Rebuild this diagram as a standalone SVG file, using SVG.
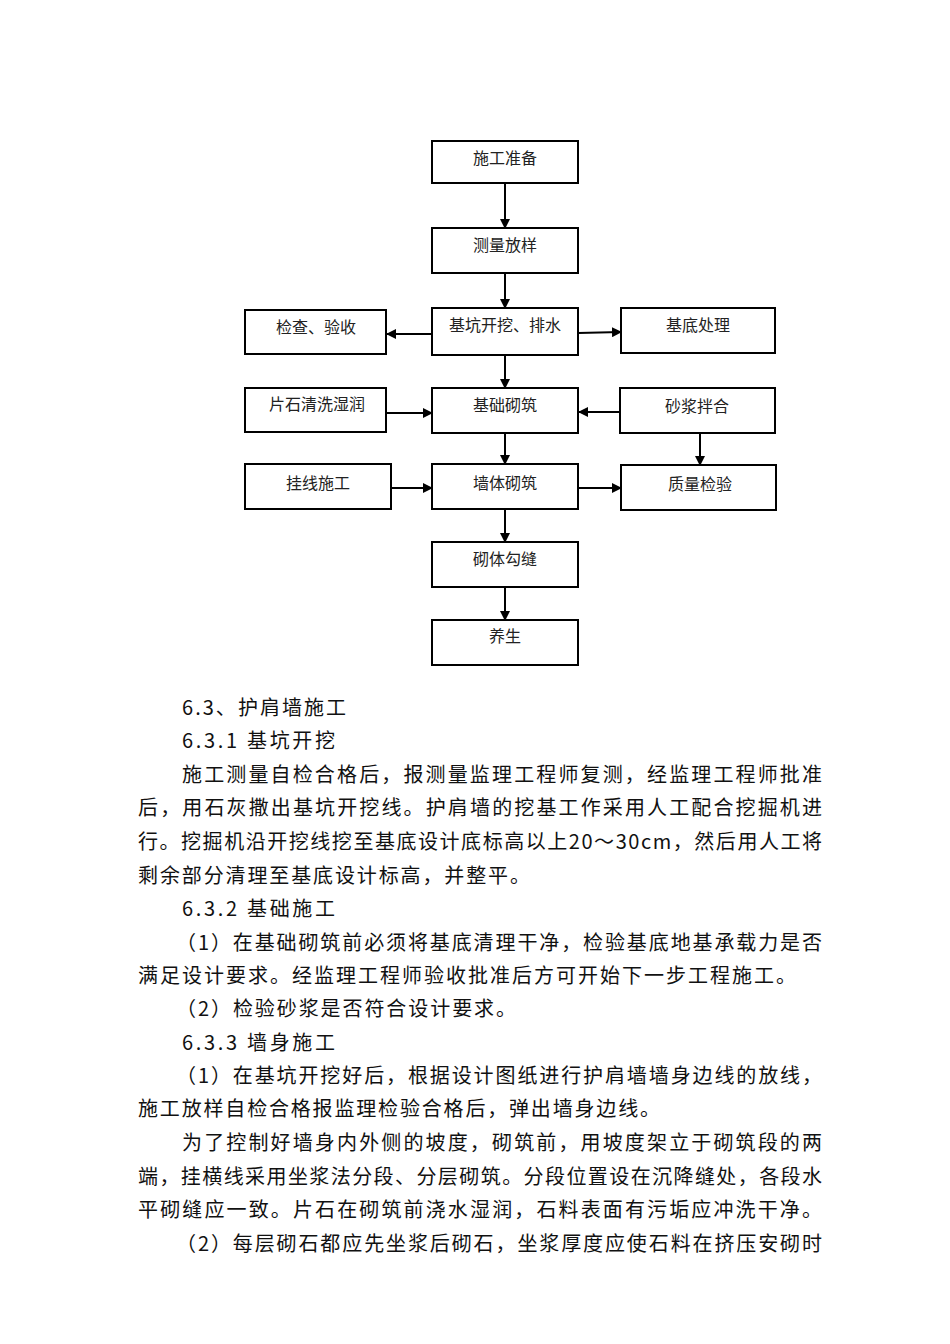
<svg xmlns="http://www.w3.org/2000/svg" width="950" height="1344" viewBox="0 0 950 1344">
<style>
.box{fill:#fff;stroke:#000;stroke-width:2}
.bt{font-family:"Noto Sans CJK SC","Noto Sans",sans-serif;font-size:16px;fill:#222;text-anchor:middle}
.con{stroke:#000;stroke-width:2;fill:none;marker-end:url(#ah)}
.p{font-family:"Noto Sans CJK SC","Noto Sans",sans-serif;font-size:20px;fill:#111}
</style>
<defs>
<marker id="ah" markerWidth="10" markerHeight="10" refX="9" refY="5" orient="auto" markerUnits="userSpaceOnUse">
<path d="M0,0 L10,5 L0,10 Z" fill="#000"/>
</marker>
</defs>
<rect width="950" height="1344" fill="#fff"/>
<g id="connectors">
<line class="con" x1="505" y1="183" x2="505" y2="228"/>
<line class="con" x1="505" y1="273" x2="505" y2="308"/>
<line class="con" x1="432" y1="334" x2="387" y2="334"/>
<line class="con" x1="578" y1="333" x2="621" y2="332"/>
<line class="con" x1="505" y1="355" x2="505" y2="388"/>
<line class="con" x1="386" y1="413" x2="432" y2="413"/>
<line class="con" x1="620" y1="412" x2="579" y2="412"/>
<line class="con" x1="505" y1="433" x2="505" y2="464"/>
<line class="con" x1="700" y1="433" x2="700" y2="465"/>
<line class="con" x1="391" y1="488" x2="432" y2="488"/>
<line class="con" x1="578" y1="488" x2="621" y2="488"/>
<line class="con" x1="505" y1="509" x2="505" y2="542"/>
<line class="con" x1="505" y1="587" x2="505" y2="620"/>
</g>
<g id="n1"><rect class="box" x="432" y="141" width="146" height="42"/><text class="bt" x="505" y="164">施工准备</text></g>
<g id="n2"><rect class="box" x="432" y="228" width="146" height="45"/><text class="bt" x="505" y="251">测量放样</text></g>
<g id="n3"><rect class="box" x="432" y="308" width="146" height="47"/><text class="bt" x="505" y="331">基坑开挖、排水</text></g>
<g id="n4"><rect class="box" x="245" y="310" width="141" height="44"/><text class="bt" x="316" y="333">检查、验收</text></g>
<g id="n5"><rect class="box" x="621" y="308" width="154" height="45"/><text class="bt" x="698" y="331">基底处理</text></g>
<g id="n6"><rect class="box" x="245" y="388" width="141" height="44"/><text class="bt" x="317" y="410">片石清洗湿润</text></g>
<g id="n7"><rect class="box" x="432" y="388" width="146" height="45"/><text class="bt" x="505" y="411">基础砌筑</text></g>
<g id="n8"><rect class="box" x="620" y="388" width="155" height="45"/><text class="bt" x="697" y="412">砂浆拌合</text></g>
<g id="n9"><rect class="box" x="245" y="464" width="146" height="45"/><text class="bt" x="318" y="489">挂线施工</text></g>
<g id="n10"><rect class="box" x="432" y="464" width="146" height="45"/><text class="bt" x="505" y="489">墙体砌筑</text></g>
<g id="n11"><rect class="box" x="621" y="465" width="155" height="45"/><text class="bt" x="700" y="490">质量检验</text></g>
<g id="n12"><rect class="box" x="432" y="542" width="146" height="45"/><text class="bt" x="505" y="565">砌体勾缝</text></g>
<g id="n13"><rect class="box" x="432" y="620" width="146" height="45"/><text class="bt" x="505" y="642">养生</text></g>
<g id="body">
<text class="p" x="182" y="715" textLength="164" lengthAdjust="spacing">6.3、护肩墙施工</text>
<text class="p" x="182" y="748" textLength="153" lengthAdjust="spacing">6.3.1 基坑开挖</text>
<text class="p" x="182" y="782" textLength="640" lengthAdjust="spacing">施工测量自检合格后，报测量监理工程师复测，经监理工程师批准</text>
<text class="p" x="138" y="815" textLength="684" lengthAdjust="spacing">后，用石灰撒出基坑开挖线。护肩墙的挖基工作采用人工配合挖掘机进</text>
<text class="p" x="138" y="849" textLength="684" lengthAdjust="spacing">行。挖掘机沿开挖线挖至基底设计底标高以上20～30cm，然后用人工将</text>
<text class="p" x="138" y="883" textLength="392" lengthAdjust="spacing">剩余部分清理至基底设计标高，并整平。</text>
<text class="p" x="182" y="916" textLength="153" lengthAdjust="spacing">6.3.2 基础施工</text>
<text class="p" x="176" y="950" textLength="646" lengthAdjust="spacing">（1）在基础砌筑前必须将基底清理干净，检验基底地基承载力是否</text>
<text class="p" x="138" y="983" textLength="658" lengthAdjust="spacing">满足设计要求。经监理工程师验收批准后方可开始下一步工程施工。</text>
<text class="p" x="176" y="1016" textLength="340" lengthAdjust="spacing">（2）检验砂浆是否符合设计要求。</text>
<text class="p" x="182" y="1050" textLength="153" lengthAdjust="spacing">6.3.3 墙身施工</text>
<text class="p" x="176" y="1083" textLength="646" lengthAdjust="spacing">（1）在基坑开挖好后，根据设计图纸进行护肩墙墙身边线的放线，</text>
<text class="p" x="138" y="1116" textLength="522" lengthAdjust="spacing">施工放样自检合格报监理检验合格后，弹出墙身边线。</text>
<text class="p" x="182" y="1150" textLength="640" lengthAdjust="spacing">为了控制好墙身内外侧的坡度，砌筑前，用坡度架立于砌筑段的两</text>
<text class="p" x="138" y="1184" textLength="684" lengthAdjust="spacing">端，挂横线采用坐浆法分段、分层砌筑。分段位置设在沉降缝处，各段水</text>
<text class="p" x="138" y="1217" textLength="684" lengthAdjust="spacing">平砌缝应一致。片石在砌筑前浇水湿润，石料表面有污垢应冲洗干净。</text>
<text class="p" x="176" y="1251" textLength="646" lengthAdjust="spacing">（2）每层砌石都应先坐浆后砌石，坐浆厚度应使石料在挤压安砌时</text>
</g>
</svg>
